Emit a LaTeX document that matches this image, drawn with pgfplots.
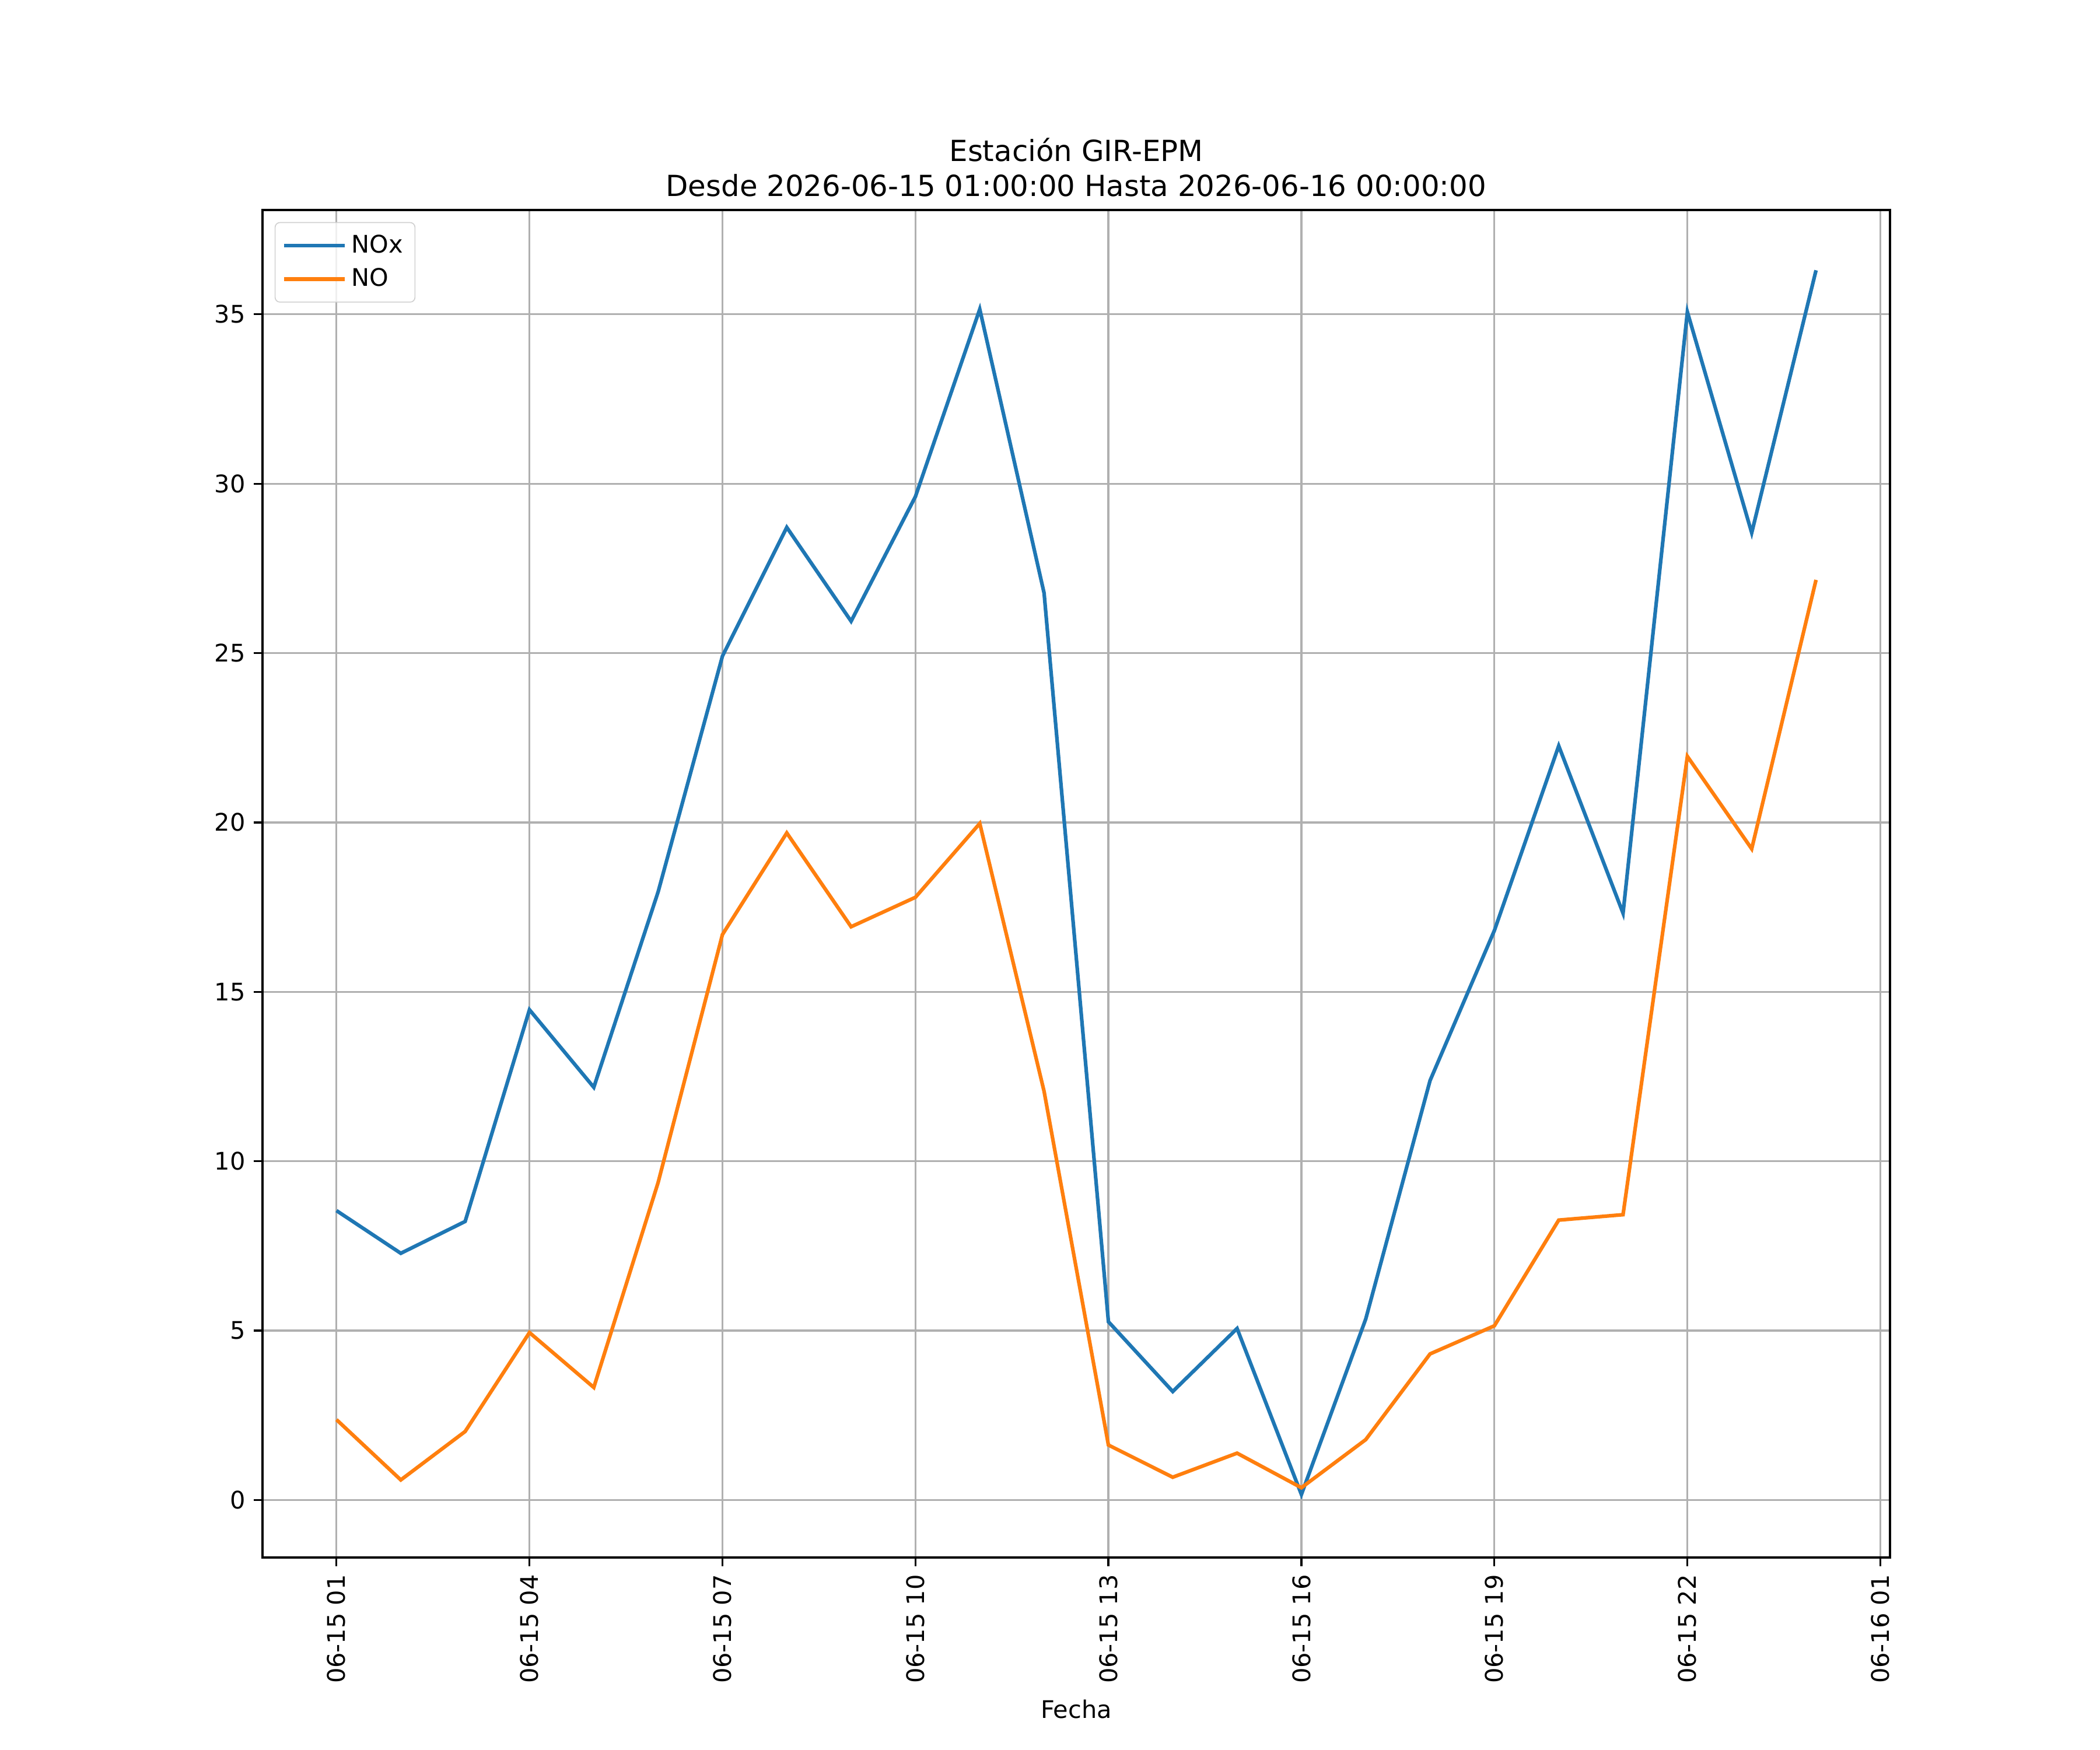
\documentclass[border=0pt]{standalone}
\usepackage{fontspec}
\setmainfont{DejaVu Sans}
\usepackage{pgfplots}
\pgfplotsset{compat=1.18}
\definecolor{cA}{HTML}{1F77B4}
\definecolor{cB}{HTML}{FF7F0E}
\definecolor{gridc}{HTML}{B0B0B0}
\begin{document}
\begin{tikzpicture}
\path (0,0) rectangle (12in,10in);
\begin{axis}[
  at={(1.5in,1.1in)}, anchor=south west,
  scale only axis, width=9.3in, height=7.7in,
  xmin=-1.15, xmax=24.15, ymin=-1.7, ymax=38.08,
  xtick={0,3,6,9,12,15,18,21,24},
  xticklabels={06-15 01,06-15 04,06-15 07,06-15 10,06-15 13,06-15 16,06-15 19,06-15 22,06-16 01},
  ytick={0,5,10,15,20,25,30,35},
  xticklabel style={rotate=90, anchor=east},
  tick label style={font=\fontsize{10}{12}\selectfont},
  /pgf/number format/assume math mode=true,
  tick align=outside, tick pos=left,
  major tick length=3.5pt,
  every tick/.style={black, line width=0.8pt},
  axis line style={line width=0.8pt},
  grid=major, major grid style={gridc, line width=0.8pt},
  xlabel={Fecha}, xlabel style={font=\fontsize{10}{12}\selectfont},
  title={Estación GIR-EPM\\Desde 2026-06-15 01:00:00 Hasta 2026-06-16 00:00:00},
  title style={align=center, font=\fontsize{12}{14.4}\selectfont, yshift=-4pt},
  legend style={at={(0,1)}, anchor=north west, xshift=5pt, yshift=-5pt,
    draw=gridc!60, fill=white, fill opacity=0.8, text opacity=1, draw opacity=1,
    rounded corners=2pt, font=\fontsize{10}{12}\selectfont,
    inner sep=3pt, row sep=1pt},
  legend cell align=left,
  legend image code/.code={\draw[#1] (0pt,0pt) -- (20pt,0pt); \path (0pt,0pt) -- (25pt,0pt);},
]
\addplot[cA, line width=1.5pt] coordinates {
(0,8.54) (1,7.28) (2,8.22) (3,14.47) (4,12.18) (5,17.95) (6,24.91) (7,28.71)
(8,25.94) (9,29.62) (10,35.15) (11,26.77) (12,5.26) (13,3.20) (14,5.06) (15,0.16)
(16,5.34) (17,12.38) (18,16.81) (19,22.26) (20,17.32) (21,35.07) (22,28.55) (23,36.30)};
\addlegendentry{NOx}
\addplot[cB, line width=1.5pt] coordinates {
(0,2.37) (1,0.59) (2,2.02) (3,4.94) (4,3.32) (5,9.37) (6,16.69) (7,19.69)
(8,16.92) (9,17.79) (10,19.97) (11,12.06) (12,1.62) (13,0.67) (14,1.38) (15,0.36)
(16,1.78) (17,4.31) (18,5.14) (19,8.26) (20,8.42) (21,21.95) (22,19.22) (23,27.16)};
\addlegendentry{NO}
\end{axis}
\end{tikzpicture}
\end{document}
